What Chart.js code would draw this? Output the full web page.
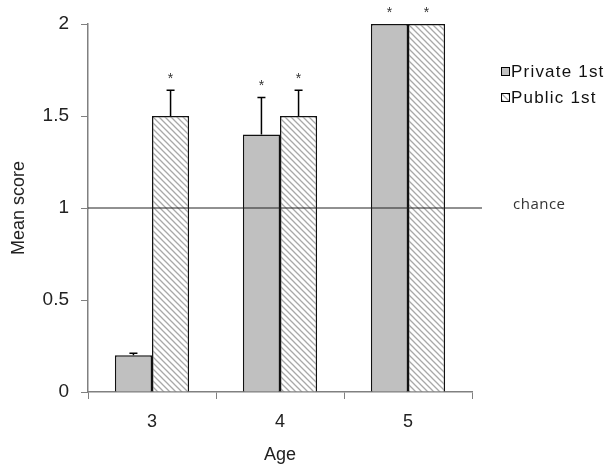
<!DOCTYPE html>
<html>
<head>
<meta charset="utf-8">
<script src="https://cdn.jsdelivr.net/npm/chart.js@4"></script>
<style>
  body { margin: 0; background: #fff; }
  #wrap { width: 612px; height: 470px; }
</style>
</head>
<body>
<div id="wrap"><canvas id="myChart" width="612" height="470"></canvas></div>
<script>
var ages = ['3', '4', '5']
var privateScores = [0.2, 1.4, 2]
var publicScores = [1.5, 1.5, 2]
var privateErr = [0.01, 0.2, 0]
var publicErr = [0.14, 0.14, 0]
var privateSig = [false, true, true]
var publicSig = [true, true, true]
var chanceLevel = 1
var yTicks = [0, 0.5, 1, 1.5, 2]

function hatch() {
    const c = document.createElement('canvas');
    c.width = 6; c.height = 6;
    const g = c.getContext('2d');
    g.fillStyle = '#ffffff';
    g.fillRect(0, 0, 6, 6);
    g.strokeStyle = '#a8a8a8';
    g.lineWidth = 1.3;
    g.beginPath();
    g.moveTo(-1, -1); g.lineTo(7, 7);
    g.moveTo(-1, 5); g.lineTo(1, 7);
    g.moveTo(5, -1); g.lineTo(7, 1);
    g.stroke();
    return g.createPattern(c, 'repeat');
}

const ctx = document.getElementById('myChart');
const hatchFill = hatch();

const extras = {
    id: 'extras',
    afterDatasetsDraw: chart => {
        let c = chart.ctx;
        let y = chart.scales.y;
        let area = chart.chartArea;
        c.save();
        // error bars and stars
        const errs = [privateErr, publicErr];
        const sigs = [privateSig, publicSig];
        chart.data.datasets.forEach((ds, di) => {
            const meta = chart.getDatasetMeta(di);
            meta.data.forEach((bar, i) => {
                let top = bar.y;
                if (errs[di][i] > 0) {
                    let ey = y.getPixelForValue(ds.data[i] + errs[di][i]);
                    c.strokeStyle = '#000';
                    c.lineWidth = 1.5;
                    c.beginPath();
                    c.moveTo(bar.x, bar.y);
                    c.lineTo(bar.x, ey);
                    c.moveTo(bar.x - 4, ey);
                    c.lineTo(bar.x + 4, ey);
                    c.stroke();
                    top = ey;
                }
                if (sigs[di][i]) {
                    c.fillStyle = '#333';
                    c.font = '14px "Liberation Sans"';
                    c.textAlign = 'center';
                    c.textBaseline = 'bottom';
                    c.fillText('*', bar.x, top - 4);
                }
            });
        });
        // chance line
        let cy = y.getPixelForValue(chanceLevel);
        c.strokeStyle = '#222';
        c.lineWidth = 1;
        c.beginPath();
        c.moveTo(area.left, cy);
        c.lineTo(area.right + 10, cy);
        c.stroke();
        c.fillStyle = '#333';
        c.font = '15px "Open Sans"';
        c.letterSpacing = '0.5px';
        c.textAlign = 'left';
        c.textBaseline = 'middle';
        c.fillText('chance', 513, cy - 3);
        // legend
        const fills = ['#c0c0c0', hatchFill];
        chart.data.datasets.forEach((ds, di) => {
            let ly = 72 + di * 26;
            c.fillStyle = fills[di];
            c.fillRect(501, ly - 5, 9, 9);
            c.strokeStyle = '#000';
            c.lineWidth = 1;
            c.strokeRect(501.5, ly - 4.5, 8, 8);
            c.fillStyle = '#111';
            c.font = '17px "Liberation Sans"';
            c.letterSpacing = '1.2px';
            c.textBaseline = 'middle';
            c.fillText(ds.label, 511, ly);
        });
        c.restore();
    }
};

new Chart(ctx, {
    type: 'bar',
    data: {
        labels: ages,
        datasets: [{
            label: 'Private 1st',
            data: privateScores,
            backgroundColor: '#c0c0c0',
            borderColor: '#111',
            borderWidth: 1.5,
            borderSkipped: 'bottom'
        }, {
            label: 'Public 1st',
            data: publicScores,
            backgroundColor: hatchFill,
            borderColor: '#111',
            borderWidth: 1.5,
            borderSkipped: 'bottom'
        }]
    },
    options: {
        responsive: false,
        animation: false,
        datasets: {
            bar: { categoryPercentage: 0.58, barPercentage: 1 }
        },
        layout: {
            padding: { left: 0, right: 140, top: 24, bottom: 0 }
        },
        scales: {
            y: {
                min: 0,
                max: 2,
                afterBuildTicks: s => { s.ticks = yTicks.map(v => ({ value: v })) },
                afterFit: s => { s.width = 88 },
                border: { color: '#808080', width: 1.5 },
                grid: { drawOnChartArea: false, tickLength: 7, color: '#808080' },
                ticks: {
                    color: '#222',
                    font: { family: 'Liberation Sans', size: 19 },
                    padding: 12,
                    callback: v => String(v)
                },
                title: {
                    display: true,
                    text: 'Mean score',
                    color: '#222',
                    font: { family: 'Liberation Sans', size: 18 },
                    padding: { top: 8, bottom: 0 }
                }
            },
            x: {
                afterFit: s => { s.height = 78 },
                border: { color: '#808080', width: 1.5 },
                grid: { drawOnChartArea: false, tickLength: 7, color: '#808080', offset: true },
                ticks: {
                    color: '#222',
                    font: { family: 'Liberation Sans', size: 18 },
                    padding: 12
                },
                title: {
                    display: true,
                    text: 'Age',
                    color: '#222',
                    font: { family: 'Liberation Sans', size: 18 },
                    padding: { top: 6 }
                }
            }
        },
        plugins: {
            legend: { display: false },
            tooltip: { enabled: false }
        }
    },
    plugins: [extras]
});
</script>
</body>
</html>
